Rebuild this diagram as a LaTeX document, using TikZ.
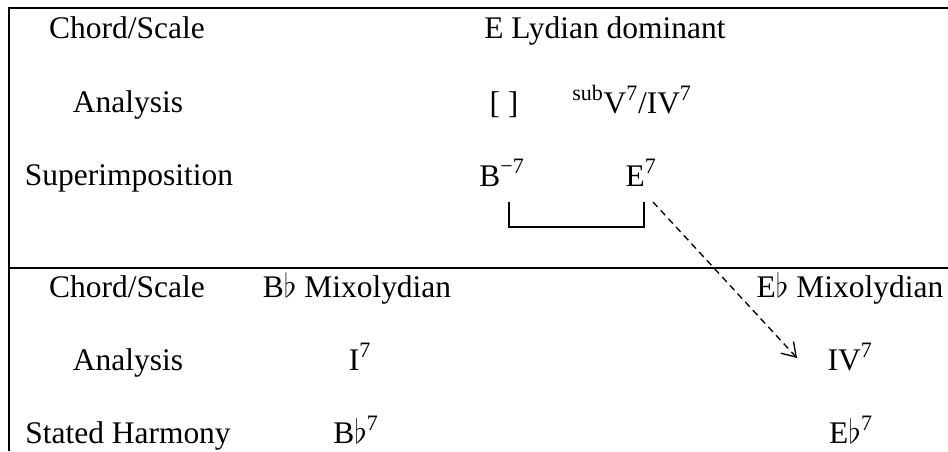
\documentclass[tikz,border=0pt]{standalone}
\usepackage{fontspec}
\setmainfont{Liberation Serif}
\usetikzlibrary{positioning, arrows.meta}

\begin{document}
\begin{tikzpicture}[
    x=0.75pt, y=-0.75pt,
    lbl/.style={anchor=base, inner sep=0pt, font=\fontsize{23.6}{28}\selectfont},
    frame/.style={line width=2pt, draw=black},
    brk/.style={line width=1.4pt, draw=black},
    dasharr/.style={-{Straight Barb[length=10pt, width=13pt]}, dash pattern=on 5pt off 3.5pt, line width=1pt}
]
\useasboundingbox (0,0) rectangle (948,451);

% frame
\draw[frame] (9,451) -- (9,8) -- (948,8);
\draw[frame] (9,268) -- (948,268);

% upper part
\node[lbl] (cs1) at (127,38) {Chord/Scale};
\node[lbl] (an1) at (128,112) {Analysis};
\node[lbl] (sup) at (129,185) {Superimposition};

\node[lbl] (lyd) at (605,38) {E Lydian dominant};
\node[lbl] (brkt) at (504,113) {[ ]};
\node[lbl] (subv) at (632,113) {\textsuperscript{sub}V\textsuperscript{7}/IV\textsuperscript{7}};
\node[lbl] (bm) at (502,186) {B\textsuperscript{−7}};
\node[lbl] (e7) at (641,186) {E\textsuperscript{7}};

\coordinate (bl) at (509,202);
\coordinate (br) at (644,202);
\draw[brk] (bl) -- ++(0,25) -| (br);

% lower part
\node[lbl] (cs2) at (127,297) {Chord/Scale};
\node[lbl] (an2) at (128,370) {Analysis};
\node[lbl] (sh) at (128,443) {Stated Harmony};

\node[lbl] (bmix) at (357,297) {B$\flat$ Mixolydian};
\node[lbl] (one) at (360,370) {I\textsuperscript{7}};
\node[lbl] (bb7) at (356,443) {B$\flat$\textsuperscript{7}};

\node[lbl] (emix) at (850,297) {E$\flat$ Mixolydian};
\node[lbl] (iv) at (850,370) {IV\textsuperscript{7}};
\node[lbl] (eb7) at (851,443) {E$\flat$\textsuperscript{7}};

\coordinate (from) at (653,202);
\coordinate (tip) at (797,358);
\draw[dasharr] (from) -- (tip);

\end{tikzpicture}
\end{document}
